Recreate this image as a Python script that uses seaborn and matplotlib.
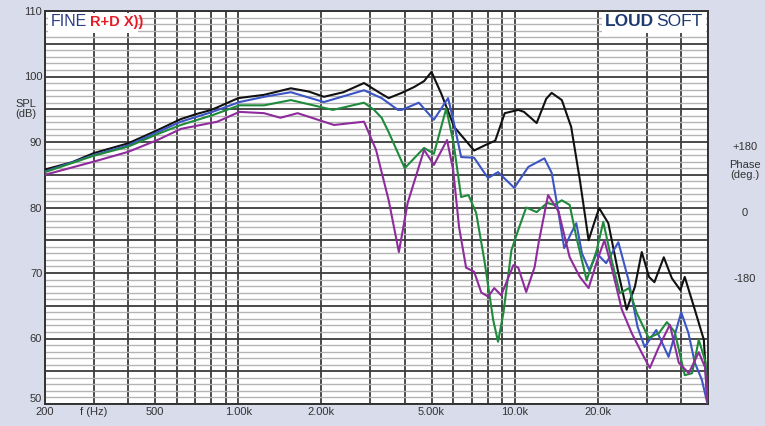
import numpy as np
import pandas as pd
import matplotlib
matplotlib.use("Agg")
import matplotlib.pyplot as plt
import matplotlib.transforms as mtransforms
from matplotlib.ticker import FixedLocator, NullLocator
from matplotlib.patches import Rectangle
import seaborn as sns

# ---- data (Hz, dB SPL) ----
f_black = [200, 250, 300, 400, 510, 620, 710, 800, 1000, 1240, 1550, 1800, 2040, 2400, 2850, 3280,
           3500, 3900, 4330, 4700, 5000, 5420, 6040, 7130, 7800, 8500, 9200, 10300, 10800, 12000,
           13000, 13600, 14800, 16000, 17200, 18500, 19500, 20200, 21800, 23700, 25400, 27200, 28800,
           30600, 32000, 34600, 37000, 39700, 41200, 44800, 48300, 49800]
spl_black = [85.8, 86.9, 88.3, 89.8, 91.8, 93.5, 94.3, 94.9, 96.7, 97.2, 98.2, 97.7, 96.9, 97.6, 99.0, 97.4,
             96.7, 97.5, 98.4, 99.3, 100.7, 97.4, 92.3, 88.7, 89.5, 90.2, 94.4, 94.9, 94.6, 92.9,
             96.6, 97.5, 96.4, 92.3, 84.2, 75.0, 78.0, 79.9, 77.6, 70.0, 64.4, 67.9, 73.2,
             69.4, 68.6, 72.4, 69.2, 67.4, 69.4, 64.4, 59.8, 50.0]

f_blue = [200, 300, 400, 510, 620, 807, 1010, 1240, 1550, 2040, 2850, 3300, 3780, 3900, 4500,
          5100, 5740, 5990, 6400, 7130, 8000, 8700, 9960, 11200, 12800, 13600, 14400, 15100,
          16000, 16700, 17500, 18600, 19800, 21400, 23700, 25800, 27800, 29500, 32500, 36000,
          40000, 42500, 44800, 47500, 49800]
spl_blue = [85.5, 88.0, 89.5, 91.5, 93.1, 94.6, 96.1, 96.9, 97.6, 96.1, 97.9, 96.7, 94.9, 94.9, 96.0,
            93.4, 96.7, 93.4, 87.7, 87.6, 84.5, 85.4, 83.0, 86.2, 87.5, 85.3, 79.2, 73.8,
            76.1, 77.6, 73.0, 70.4, 73.0, 71.5, 74.7, 68.9, 61.8, 58.7, 61.3, 57.2,
            64.0, 60.8, 56.3, 53.7, 50.0]

f_green = [200, 300, 400, 510, 620, 807, 1010, 1240, 1550, 2200, 2850, 3100, 3300, 3500, 4000,
           4700, 5100, 5650, 6000, 6400, 6800, 7250, 7760, 8360, 8700, 9100, 9730, 10300,
           11000, 12000, 13100, 13900, 14800, 15800, 16700, 18200, 19800, 20900, 22400,
           24000, 25900, 27600, 30500, 33200, 35500, 37900, 41200, 43800, 46300, 49000, 49800]
spl_green = [85.4, 87.9, 89.3, 91.2, 92.6, 94.1, 95.6, 95.6, 96.4, 94.9, 96.0, 94.9, 93.7, 91.5, 86.0,
             89.1, 88.2, 95.1, 90.0, 81.6, 81.9, 79.2, 72.0, 62.8, 59.5, 63.9, 73.5, 76.6,
             80.0, 79.3, 80.7, 80.4, 81.1, 80.4, 75.5, 68.9, 73.5, 77.8, 72.0,
             66.9, 67.7, 63.9, 60.1, 60.8, 62.5, 61.0, 54.4, 54.7, 59.8, 56.4, 50.0]

f_purple = [200, 300, 400, 510, 620, 840, 1010, 1240, 1420, 1640, 2220, 2850, 3150, 3500, 3810,
            4100, 4700, 5100, 5690, 5990, 6290, 6670, 7130, 7570, 8020, 8430, 8930, 9890,
            10300, 11000, 11800, 12200, 13200, 14400, 15800, 17200, 18500, 19800, 21100,
            22400, 24400, 26500, 28800, 30800, 33200, 36400, 39200, 42600, 46300, 48800, 49800]
spl_purple = [85.0, 87.0, 88.5, 90.3, 92.0, 93.1, 94.6, 94.4, 93.7, 94.4, 92.6, 93.1, 88.8, 81.1, 73.2,
              80.7, 88.8, 86.5, 90.3, 85.7, 77.0, 70.8, 70.2, 67.0, 66.4, 67.7, 66.6, 71.2,
              70.8, 67.1, 70.9, 74.6, 81.9, 79.4, 72.4, 69.4, 67.7, 71.7, 75.0,
              70.9, 64.4, 60.8, 57.8, 55.5, 58.7, 62.1, 56.3, 54.7, 57.9, 55.6, 50.0]

series = [
    (f_black, spl_black, "#111111"),
    (f_blue, spl_blue, "#3b55c4"),
    (f_green, spl_green, "#1f8a3b"),
    (f_purple, spl_purple, "#8e2c9c"),
]

x_ticks = [200, 300, 400, 500, 600, 700, 800, 900, 1000, 2000, 3000, 4000, 5000, 6000,
           7000, 8000, 9000, 10000, 20000, 30000, 40000, 50000]
x_labels = {200: "200", 300: "f (Hz)", 500: "500", 1000: "1.00k", 2000: "2.00k",
            5000: "5.00k", 10000: "10.0k", 20000: "20.0k"}
y_ticks = list(range(50, 111, 5))

W, H = 765, 426
sns.set_style("white")
plt.rcParams["font.family"] = ["Liberation Sans", "DejaVu Sans"]

fig = plt.figure(figsize=(W / 100, H / 100), dpi=100)
fig.patch.set_facecolor("#d9dcea")
ax = fig.add_axes([45 / W, 1 - 404 / H, (708 - 45) / W, (404 - 11) / H])
ax.set_facecolor("white")

for fr, spl, col in series:
    df = pd.DataFrame({"f": fr, "spl": spl})
    sns.lineplot(data=df, x="f", y="spl", color=col, lw=1.5, ax=ax, zorder=5)

ax.set_xscale("log")
ax.set_xlim(200, 50000)
ax.set_ylim(50, 110)
ax.xaxis.set_major_locator(FixedLocator(x_ticks))
ax.xaxis.set_minor_locator(NullLocator())
ax.set_xticklabels([x_labels.get(t, "") for t in x_ticks])
ax.set_yticks(y_ticks)
ax.set_yticklabels([str(t) if t % 10 == 0 else "" for t in y_ticks])
ax.yaxis.set_minor_locator(FixedLocator(range(50, 111)))
ax.set_xlabel("")
ax.set_ylabel("")
ax.tick_params(which="both", length=0, labelsize=8, labelcolor="#333333", pad=2)

# "50" sits a bit higher, as in the original
lab50 = ax.get_yticklabels()[0]
lab50.set_transform(lab50.get_transform() + mtransforms.ScaledTranslation(0, 4 / 72, fig.dpi_scale_trans))

ax.grid(which="minor", axis="y", color="#b4b4b4", lw=1.0, zorder=1)
ax.grid(which="major", color="#3c3c3c", lw=1.3, zorder=2)
ax.set_axisbelow(True)
for s in ax.spines.values():
    s.set_color("#333333")
    s.set_linewidth(1.4)

def fx(x):
    return x / W

def fy(y):
    return 1 - y / H

# side labels
fig.text(fx(26), fy(109), "SPL\n(dB)", ha="center", va="center", fontsize=8,
         color="#333333", linespacing=1.1)
fig.text(fx(745), fy(147), "+180", ha="center", va="center", fontsize=8, color="#333333")
fig.text(fx(745), fy(170), "Phase\n(deg.)", ha="center", va="center", fontsize=8,
         color="#333333", linespacing=1.1)
fig.text(fx(745), fy(213), "0", ha="center", va="center", fontsize=8, color="#333333")
fig.text(fx(745), fy(279), "-180", ha="center", va="center", fontsize=8, color="#333333")

# logos
fig.patches.append(Rectangle((fx(48), fy(33)), fx(90), 20 / H, transform=fig.transFigure,
                             facecolor="white", edgecolor="none", zorder=3))
fig.text(fx(51), fy(22), "FINE", ha="left", va="center", fontsize=11.5, color="#2a3d86", zorder=4)
fig.text(fx(90), fy(22), "R+D X))", ha="left", va="center", fontsize=10.5, color="#e41e26",
         fontweight="bold", family=["Liberation Sans Narrow", "Liberation Sans"], zorder=4)
fig.patches.append(Rectangle((fx(602), fy(33)), fx(104), 21 / H, transform=fig.transFigure,
                             facecolor="white", edgecolor="none", zorder=3))
fig.text(fx(605), fy(22), "LOUD", ha="left", va="center", fontsize=12.5, color="#1f3a70",
         fontweight="bold", zorder=4)
fig.text(fx(656), fy(22), "SOFT", ha="left", va="center", fontsize=12.5, color="#1f3a70", zorder=4)

fig.savefig("out.png", dpi=100, facecolor=fig.get_facecolor())
